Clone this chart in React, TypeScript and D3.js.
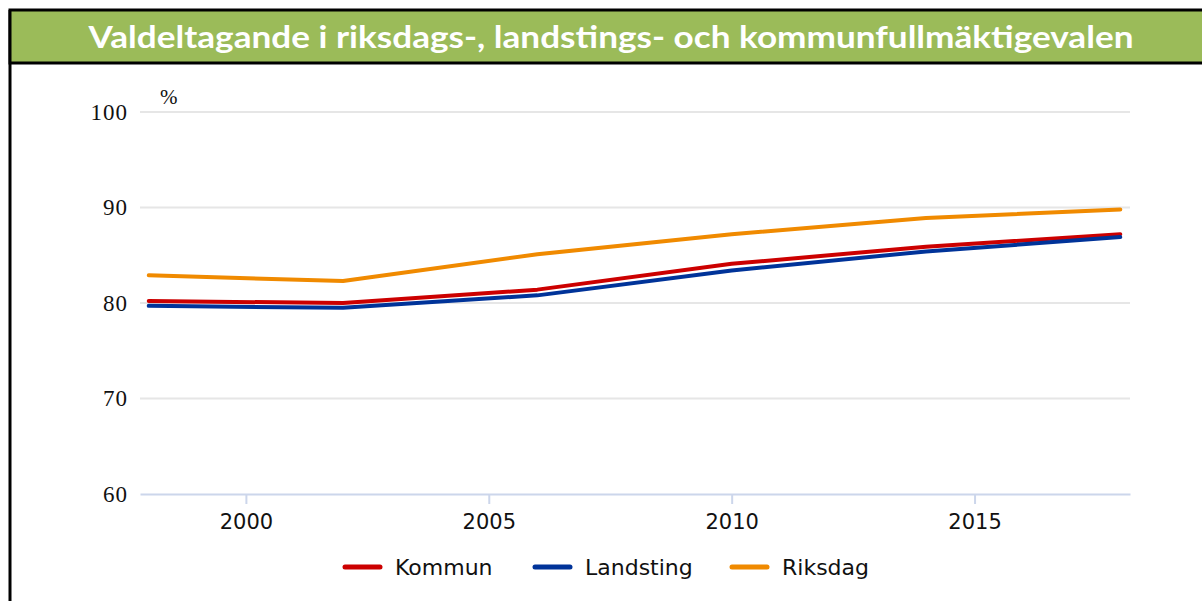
import * as d3 from "d3";
import { useEffect, useRef } from "react";

// valår och valdeltagande i procent
const years = [1998, 2002, 2006, 2010, 2014, 2018];
const kommun = [80.2, 80.0, 81.4, 84.1, 85.9, 87.2];
const landsting = [79.7, 79.5, 80.8, 83.4, 85.4, 86.9];
const riksdag = [82.9, 82.3, 85.1, 87.2, 88.9, 89.8];

const seriesNames = ["Kommun", "Landsting", "Riksdag"];
const seriesColors = ["#cc0000", "#003399", "#f08a00"];
const yTicks = [60, 70, 80, 90, 100];
const xTicks = [2000, 2005, 2010, 2015];

const title = "Valdeltagande i riksdags-, landstings- och kommunfullmäktigevalen";

const App = () => {
  const ref = useRef<SVGSVGElement>(null);
  const width = 1202;
  const height = 601;
  const margin = { top: 112, bottom: 107, left: 140, right: 72 };

  useEffect(() => {
    const svg = d3.select(ref.current);
    svg.selectAll("*").remove();

    // ram och rubrik
    svg.append("rect").attr("x", 0).attr("y", 0).attr("width", width).attr("height", height).attr("fill", "#fff");
    svg.append("line")
      .attr("x1", 10).attr("x2", 10).attr("y1", 10).attr("y2", height)
      .attr("stroke", "#000").attr("stroke-width", 3);
    svg.append("rect")
      .attr("x", 10).attr("y", 10).attr("width", width + 10).attr("height", 53)
      .attr("fill", "#9bbb59").attr("stroke", "#000").attr("stroke-width", 3);
    svg.append("text")
      .attr("x", 611).attr("y", 48)
      .attr("text-anchor", "middle")
      .attr("font-family", "Lato, 'Open Sans', sans-serif")
      .attr("font-weight", "bold")
      .attr("font-size", 31)
      .attr("textLength", 1045)
      .attr("lengthAdjust", "spacingAndGlyphs")
      .attr("fill", "#fff")
      .text(title);

    const x = d3.scaleLinear()
      .domain([1997.82, 2018.2])
      .range([margin.left, width - margin.right]);
    const y = d3.scaleLinear()
      .domain([60, 100])
      .range([height - margin.bottom, margin.top]);

    // stödlinjer
    svg.append("g")
      .selectAll("line")
      .data(yTicks.filter(d => d > 60))
      .enter()
      .append("line")
      .attr("x1", margin.left).attr("x2", width - margin.right)
      .attr("y1", d => y(d)).attr("y2", d => y(d))
      .attr("stroke", "#e6e6e6").attr("stroke-width", 2);

    // y-axel
    const yAxis = svg.append("g")
      .attr("transform", `translate(${margin.left - 12}, 0)`)
      .call(d3.axisLeft(y).tickValues(yTicks).tickSize(0).tickPadding(0));
    yAxis.select(".domain").remove();
    yAxis.selectAll("text")
      .attr("font-family", "'Liberation Serif', 'DejaVu Serif', serif")
      .attr("font-size", 23)
      .attr("letter-spacing", 1)
      .attr("fill", "#111")
      .attr("dy", "0.32em");

    svg.append("text")
      .attr("x", 160).attr("y", 104)
      .attr("font-family", "'Liberation Serif', serif")
      .attr("font-size", 21)
      .attr("fill", "#111")
      .text("%");

    // x-axel
    const xAxis = svg.append("g")
      .attr("transform", `translate(0, ${y(60)})`)
      .call(d3.axisBottom(x).tickValues(xTicks).tickFormat(d3.format("d")).tickSize(10).tickPadding(10).tickSizeOuter(0));
    xAxis.select(".domain").attr("stroke", "#ccd6eb").attr("stroke-width", 2);
    xAxis.selectAll(".tick line").attr("stroke", "#ccd6eb").attr("stroke-width", 2);
    xAxis.selectAll("text")
      .attr("font-family", "'DejaVu Sans', sans-serif")
      .attr("font-size", 21)
      .attr("fill", "#111");

    // linjer
    const allSeries = [kommun, landsting, riksdag];
    const line = d3.line<number>()
      .x((d, i) => x(years[i]))
      .y(d => y(d));

    svg.append("g")
      .selectAll("path")
      .data(allSeries)
      .enter()
      .append("path")
      .attr("d", d => line(d))
      .attr("fill", "none")
      .attr("stroke", (d, i) => seriesColors[i])
      .attr("stroke-width", 4)
      .attr("stroke-linecap", "round")
      .attr("stroke-linejoin", "round");

    // teckenförklaring
    const legendX = [345, 535, 732];
    const legend = svg.append("g")
      .selectAll("g")
      .data(seriesNames)
      .enter()
      .append("g")
      .attr("transform", (d, i) => `translate(${legendX[i]}, 567)`);
    legend.append("line")
      .attr("x1", 0).attr("x2", 35).attr("y1", 0).attr("y2", 0)
      .attr("stroke", (d, i) => seriesColors[i])
      .attr("stroke-width", 5)
      .attr("stroke-linecap", "round");
    legend.append("text")
      .attr("x", 50).attr("y", 0).attr("dy", "0.35em")
      .attr("font-family", "'DejaVu Sans', sans-serif")
      .attr("font-size", 22)
      .attr("fill", "#111")
      .text(d => d);
  }, []);

  return (
    <svg ref={ref} width={width} height={height} style={{ position: "absolute", left: 0, top: 0 }}></svg>
  );
};

export default App;
